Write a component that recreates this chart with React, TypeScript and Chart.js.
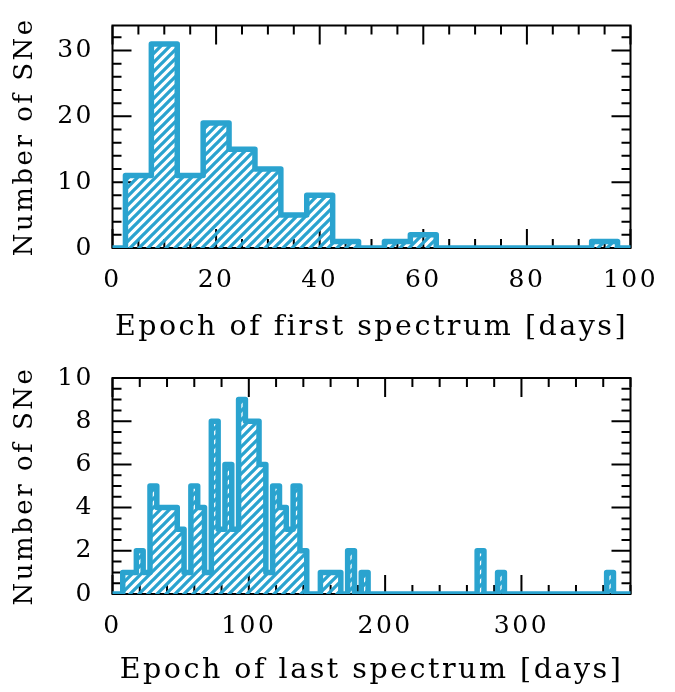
import React, { useEffect, useRef } from 'react';
import { Chart, registerables } from 'chart.js';

Chart.register(...registerables);

const W = 675;
const H = 346;
const BLUE = '#2aa3cf';
const FONT = "'DejaVu Serif', serif";

// ---- Top panel: epoch of first spectrum (5-day bins, first bin starts at 2.5 d)
const firstBinStart = 2.5;
const firstBinWidth = 5;
const firstCounts = [11, 31, 11, 19, 15, 12, 5, 8, 1, 0, 1, 2, 0, 0, 0, 0, 0, 0, 1];
const firstXTicks = [0, 20, 40, 60, 80, 100];
const firstYTicks = [0, 10, 20, 30];

// ---- Bottom panel: epoch of last spectrum (5-day bins, first bin starts at 2.5 d)
const lastBinStart = 2.5;
const lastBinWidth = 5;
const lastCounts = [
  0, 1, 1, 2, 1, 5, 4, 4, 4, 3,
  1, 5, 4, 1, 8, 3, 6, 3, 9, 8,
  8, 6, 1, 5, 4, 3, 5, 2, 0, 0,
  1, 1, 1, 0, 2, 0, 1, 0, 0, 0,
  0, 0, 0, 0, 0, 0, 0, 0, 0, 0,
  0, 0, 0, 2, 0, 0, 1, 0, 0, 0,
  0, 0, 0, 0, 0, 0, 0, 0, 0, 0,
  0, 0, 1,
];
const lastXTicks = [0, 100, 200, 300];
const lastYTicks = [0, 2, 4, 6, 8, 10];

type PanelProps = {
  counts: number[];
  binStart: number;
  binWidth: number;
  xMax: number;
  yMax: number;
  xTicks: number[];
  yTicks: number[];
  xMinor: number;
  yMinor: number;
  xTitle: string;
  areaTop: number;
  areaBottom: number;
  yTitlePad: number;
  xTitlePad: number;
};

function makeHatch(): CanvasPattern | string {
  const p = 9;
  const c = document.createElement('canvas');
  c.width = p;
  c.height = p;
  const g = c.getContext('2d');
  if (!g) return BLUE;
  g.strokeStyle = BLUE;
  g.lineWidth = 3.3;
  g.beginPath();
  for (let k = 0; k <= 2; k++) {
    g.moveTo(-p, k * p + p);
    g.lineTo(k * p + p, -p);
  }
  g.stroke();
  return g.createPattern(c, 'repeat') || BLUE;
}

function Panel(props: PanelProps) {
  const ref = useRef<HTMLCanvasElement | null>(null);
  useEffect(() => {
    const canvas = ref.current;
    if (!canvas) return;
    const p = props;
    const pts: { x: number; y: number }[] = [{ x: 0, y: 0 }];
    p.counts.forEach((c, i) => pts.push({ x: p.binStart + i * p.binWidth, y: c }));
    pts.push({ x: p.binStart + p.counts.length * p.binWidth, y: 0 });
    pts.push({ x: p.xMax, y: 0 });

    const MAJOR = 19;
    const MINOR = 9;
    const frameTicks = {
      id: 'frameTicks',
      beforeDraw(chart: any) {
        try {
          (chart.ctx as any).letterSpacing = '2.5px';
        } catch (e) {}
      },
      beforeDatasetsDraw(chart: any) {
        const { ctx, chartArea: a } = chart;
        const x = chart.scales.x;
        const y = chart.scales.y;
        ctx.save();
        ctx.strokeStyle = '#000';
        ctx.lineWidth = 2;
        ctx.beginPath();
        const isMajor = (v: number, list: number[]) => list.some((t) => Math.abs(t - v) < 1e-6);
        for (let v = 0; v <= p.xMax + 1e-6; v += p.xMinor) {
          const len = isMajor(v, p.xTicks) ? MAJOR : MINOR;
          const px = x.getPixelForValue(v);
          ctx.moveTo(px, a.bottom);
          ctx.lineTo(px, a.bottom - len);
          ctx.moveTo(px, a.top);
          ctx.lineTo(px, a.top + len);
        }
        for (let v = 0; v <= p.yMax + 1e-6; v += p.yMinor) {
          const len = isMajor(v, p.yTicks) ? MAJOR : MINOR;
          const py = y.getPixelForValue(v);
          ctx.moveTo(a.left, py);
          ctx.lineTo(a.left + len, py);
          ctx.moveTo(a.right, py);
          ctx.lineTo(a.right - len, py);
        }
        ctx.stroke();
        ctx.strokeRect(a.left, a.top, a.right - a.left, a.bottom - a.top);
        ctx.restore();
      },
    };

    const chart = new Chart(canvas, {
      type: 'line',
      data: {
        datasets: [
          {
            data: pts,
            stepped: 'before',
            borderColor: BLUE,
            borderWidth: 5.5,
            borderJoinStyle: 'round',
            borderCapStyle: 'round',
            backgroundColor: makeHatch() as any,
            fill: 'origin',
            pointRadius: 0,
            pointHoverRadius: 0,
          },
        ],
      },
      options: {
        animation: false,
        responsive: false,
        maintainAspectRatio: false,
        devicePixelRatio: 1,
        events: [],
        layout: { padding: { left: 0, top: p.areaTop, right: W - 630.5, bottom: 0 } },
        plugins: { legend: { display: false }, tooltip: { enabled: false } },
        scales: {
          x: {
            type: 'linear',
            min: 0,
            max: p.xMax,
            grid: { display: false },
            border: { display: false },
            afterBuildTicks: (s: any) => {
              s.ticks = p.xTicks.map((v) => ({ value: v }));
            },
            afterFit: (s: any) => {
              s.height = H - p.areaBottom;
            },
            ticks: {
              color: '#000',
              font: { family: FONT, size: 25 },
              padding: 9,
              maxRotation: 0,
              autoSkip: false,
            },
            title: {
              display: true,
              text: p.xTitle,
              color: '#000',
              font: { family: FONT, size: 28.5 },
              padding: { top: 0, bottom: p.xTitlePad },
            },
          },
          y: {
            type: 'linear',
            min: 0,
            max: p.yMax,
            grid: { display: false },
            border: { display: false },
            afterBuildTicks: (s: any) => {
              s.ticks = p.yTicks.map((v) => ({ value: v }));
            },
            afterFit: (s: any) => {
              s.width = 112.5;
            },
            ticks: {
              color: '#000',
              font: { family: FONT, size: 25 },
              padding: 10.5,
              autoSkip: false,
            },
            title: {
              display: true,
              text: 'Number of SNe',
              color: '#000',
              font: { family: FONT, size: 26 },
              padding: { top: p.yTitlePad, bottom: 0 },
            },
          },
        },
      } as any,
      plugins: [frameTicks as any],
    });
    return () => chart.destroy();
  }, []);
  return <canvas ref={ref} width={W} height={H} style={{ display: 'block', width: W, height: H }} />;
}

export default function App() {
  return (
    <div style={{ position: 'fixed', left: 0, top: 0, width: W, height: 692, background: '#fff' }}>
      <Panel
        counts={firstCounts}
        binStart={firstBinStart}
        binWidth={firstBinWidth}
        xMax={100}
        yMax={33.8}
        xTicks={firstXTicks}
        yTicks={firstYTicks}
        xMinor={5}
        yMinor={2}
        xTitle="Epoch of first spectrum [days]"
        areaTop={12}
        areaBottom={248}
        yTitlePad={10}
        xTitlePad={1.5}
      />
      <Panel
        counts={lastCounts}
        binStart={lastBinStart}
        binWidth={lastBinWidth}
        xMax={380}
        yMax={10}
        xTicks={lastXTicks}
        yTicks={lastYTicks}
        xMinor={20}
        yMinor={0.5}
        xTitle="Epoch of last spectrum [days]"
        areaTop={32}
        areaBottom={248}
        yTitlePad={10}
        xTitlePad={4}
      />
    </div>
  );
}
